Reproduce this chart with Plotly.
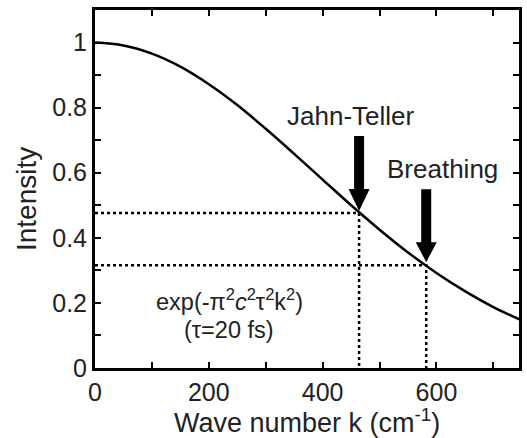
import plotly.graph_objects as go

# Gaussian intensity curve
wave_number = [0, 50, 100, 150, 200, 250, 300, 350, 400, 450, 500, 550, 600, 650, 700, 750]
intensity = [1.000, 0.991, 0.966, 0.926, 0.872, 0.808, 0.735, 0.658, 0.579, 0.500,
             0.425, 0.355, 0.292, 0.236, 0.187, 0.146]

# Marked modes
mode_names = ["Jahn-Teller", "Breathing"]
mode_k = [464, 582]
mode_intensity = [0.476, 0.316]

x_ticks = [0, 200, 400, 600]
y_ticks = [0, 0.2, 0.4, 0.6, 0.8, 1]

FONT = "Liberation Sans, Arial, Helvetica, sans-serif"

fig = go.Figure()
fig.add_trace(go.Scatter(x=wave_number, y=intensity, mode="lines", line=dict(color="black", width=2.5, shape="spline"),
                         hoverinfo="skip", showlegend=False))

for k, inten in zip(mode_k, mode_intensity):
    fig.add_trace(go.Scatter(x=[0, k, k], y=[inten, inten, 0], mode="lines",
                             line=dict(color="black", width=2.5, dash="dot"),
                             hoverinfo="skip", showlegend=False))

# arrows (pixel-sized, anchored at the mode points)
arrow_geom = [(2, 24, 77), (3, 23, 76)]
for (k, inten), (tip, base, top) in zip(zip(mode_k, mode_intensity), arrow_geom):
    path = (f"M -10.5,{base} L -5,{base} L -5,{top} L 5,{top} L 5,{base} "
            f"L 10.5,{base} L 0,{tip} Z")
    fig.add_shape(type="path", path=path, xref="x", yref="y",
                  xsizemode="pixel", ysizemode="pixel", xanchor=k, yanchor=inten,
                  fillcolor="black", line=dict(color="black", width=0))

fig.add_annotation(x=450, y=0.775, xref="x", yref="y", text="Jahn-Teller", showarrow=False,
                   font=dict(size=26, color="#222"), xanchor="center", yanchor="middle")
fig.add_annotation(x=611, y=0.61, xref="x", yref="y", text="Breathing", showarrow=False,
                   font=dict(size=26, color="#222"), xanchor="center", yanchor="middle")
fig.add_annotation(x=236, y=0.21, xref="x", yref="y",
                   text="exp(-π<sup>2</sup><i>c</i><sup>2</sup>τ<sup>2</sup>k<sup>2</sup>)",
                   showarrow=False, font=dict(size=23.5, color="#222"), xanchor="center", yanchor="middle")
fig.add_annotation(x=236, y=0.116, xref="x", yref="y", text="(τ=20 fs)",
                   showarrow=False, font=dict(size=23.5, color="#222"), xanchor="center", yanchor="middle")

# axis titles
fig.add_annotation(x=-0.162, y=0.52, xref="paper", yref="y", text="Intensity", textangle=-90,
                   showarrow=False, font=dict(size=28, color="#222"), xanchor="center", yanchor="middle")
fig.add_annotation(x=0.5, y=-0.147, xref="paper", yref="paper", text="Wave number k (cm<sup>-1</sup>)",
                   showarrow=False, font=dict(size=27, color="#222"), xanchor="center", yanchor="middle")

axis_common = dict(showgrid=False, zeroline=False, showline=True, linecolor="black", linewidth=3,
                   mirror="ticks", ticks="inside", ticklen=6, tickwidth=2, tickcolor="black",
                   tickfont=dict(size=25, color="#222"))

fig.update_xaxes(range=[0, 745], tickvals=x_ticks, ticktext=[str(v) for v in x_ticks],
                 minor=dict(dtick=100, ticks="inside", ticklen=6, tickwidth=2, tickcolor="black"),
                 **axis_common)
fig.update_yaxes(range=[0, 1.1], tickvals=y_ticks, ticktext=["0", "0.2", "0.4", "0.6", "0.8", "1"],
                 minor=dict(dtick=0.1, ticks="inside", ticklen=6, tickwidth=2, tickcolor="black"),
                 **axis_common)

fig.update_layout(width=527, height=438, margin=dict(l=95, r=5, t=10, b=70),
                  paper_bgcolor="white", plot_bgcolor="white",
                  font=dict(family=FONT, color="#222"))

fig.write_html("out.html")
